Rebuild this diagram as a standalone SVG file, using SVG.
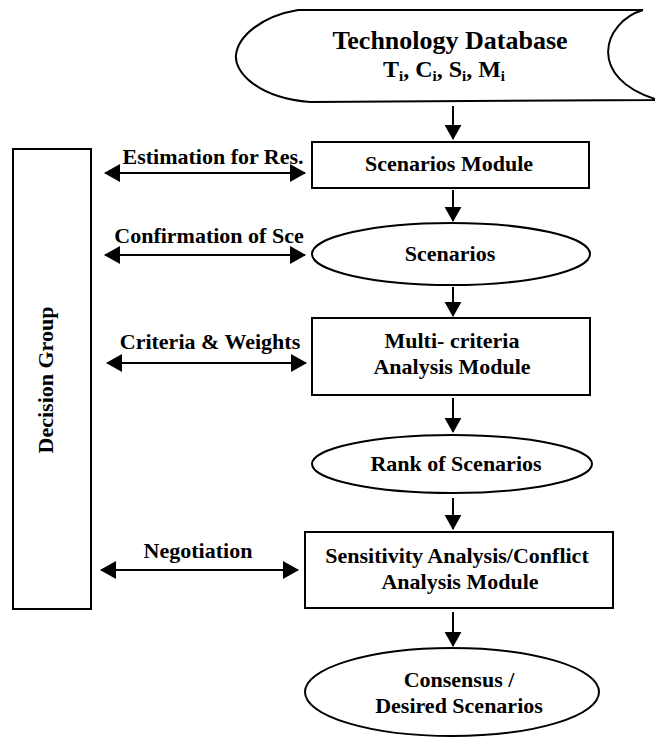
<svg xmlns="http://www.w3.org/2000/svg" width="655" height="738" viewBox="0 0 655 738">
<defs>
<marker id="ah" viewBox="0 0 16 18" refX="15" refY="9" markerWidth="16" markerHeight="18" orient="auto-start-reverse" markerUnits="userSpaceOnUse"><path d="M0,0 L16,9 L0,18 Z" fill="#000"/></marker>
<marker id="av" viewBox="0 0 16 18" refX="15" refY="9" markerWidth="15" markerHeight="18" orient="auto" markerUnits="userSpaceOnUse"><path d="M0,0 L16,9 L0,18 Z" fill="#000"/></marker>
</defs>
<style>
.t{font-family:"Liberation Serif","Times New Roman",serif;font-weight:bold;font-size:22px;fill:#000;text-anchor:middle}
.s{fill:#fff;stroke:#000;stroke-width:2}
.c{stroke:#000;stroke-width:2}
</style>
<rect width="655" height="738" fill="#fff"/>
<g id="techdb">
<path class="s" d="M298,10 L643,10 C603,22 585,78 658,100 L310,102 C258,98 234,72 236,55 C238,36 262,16 298,10 Z"/>
<text class="t" x="450" y="49" style="font-size:26px">Technology Database</text>
<text class="t" x="444" y="77" style="font-size:24px">T<tspan dy="4" font-size="15">i</tspan><tspan dy="-4">, C</tspan><tspan dy="4" font-size="15">i</tspan><tspan dy="-4">, S</tspan><tspan dy="4" font-size="15">i</tspan><tspan dy="-4">, M</tspan><tspan dy="4" font-size="15">i</tspan></text>
</g>
<g id="decision">
<rect class="s" x="13" y="149" width="78" height="460"/>
<text class="t" transform="translate(53,380) rotate(-90)">Decision Group</text>
</g>
<g id="scenmod">
<rect class="s" x="312" y="142" width="277" height="46"/>
<text class="t" x="449" y="171">Scenarios Module</text>
</g>
<g id="scen">
<ellipse class="s" cx="451" cy="254" rx="139" ry="31"/>
<text class="t" x="450" y="261">Scenarios</text>
</g>
<g id="mca">
<rect class="s" x="312" y="318" width="278" height="77"/>
<text class="t" x="452" y="348">Multi- criteria</text>
<text class="t" x="452" y="374">Analysis Module</text>
</g>
<g id="rank">
<ellipse class="s" cx="452" cy="464" rx="140" ry="29"/>
<text class="t" x="456" y="471">Rank of Scenarios</text>
</g>
<g id="sens">
<rect class="s" x="305" y="532" width="308" height="76"/>
<text class="t" x="457" y="563">Sensitivity Analysis/Conflict</text>
<text class="t" x="460" y="589">Analysis Module</text>
</g>
<g id="consensus">
<ellipse class="s" cx="452" cy="692" rx="147" ry="44"/>
<text class="t" x="459" y="687">Consensus /</text>
<text class="t" x="459" y="713">Desired Scenarios</text>
</g>
<g id="connectors">
<line class="c" x1="453" y1="106" x2="453" y2="139" marker-end="url(#av)"/>
<line class="c" x1="453" y1="190" x2="453" y2="221" marker-end="url(#av)"/>
<line class="c" x1="453" y1="287" x2="453" y2="316" marker-end="url(#av)"/>
<line class="c" x1="453" y1="398" x2="453" y2="432" marker-end="url(#av)"/>
<line class="c" x1="453" y1="498" x2="453" y2="529" marker-end="url(#av)"/>
<line class="c" x1="453" y1="612" x2="453" y2="646" marker-end="url(#av)"/>
<line class="c" x1="105" y1="173" x2="305" y2="173" marker-start="url(#ah)" marker-end="url(#ah)"/>
<line class="c" x1="105" y1="255" x2="305" y2="255" marker-start="url(#ah)" marker-end="url(#ah)"/>
<line class="c" x1="107" y1="363" x2="306" y2="363" marker-start="url(#ah)" marker-end="url(#ah)"/>
<line class="c" x1="101" y1="570" x2="298" y2="570" marker-start="url(#ah)" marker-end="url(#ah)"/>
<text class="t" x="213" y="164">Estimation for Res.</text>
<text class="t" x="209" y="243">Confirmation of Sce</text>
<text class="t" x="210" y="349">Criteria &amp; Weights</text>
<text class="t" x="198" y="558">Negotiation</text>
</g>
</svg>
